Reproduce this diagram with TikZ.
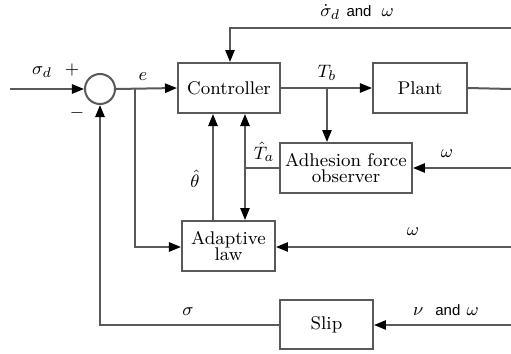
\documentclass[tikz,border=0pt]{standalone}
\usepackage{fontspec}
\newfontfamily\andfont{Liberation Sans}
\usetikzlibrary{arrows.meta,calc}
\begin{document}
\begin{tikzpicture}[x=0.5pt,y=-0.5pt,
  wire/.style={draw=black!65,line width=1pt},
  arr/.style={wire,-{Triangle[length=6pt,width=4.6pt,fill=black,color=black]}},
  block/.style={draw=black!65,line width=1pt,minimum width=#1,inner sep=0pt,align=center,font=\fontsize{9.2}{10.2}\selectfont},
  lbl/.style={font=\fontsize{9.5}{10}\selectfont,inner sep=0pt}]
\useasboundingbox (0,0) rectangle (511,354);

% blocks
\node[block=51pt,minimum height=25pt] (ctrl) at (229,88) {Controller};
\node[block=47pt,minimum height=25pt] (plant) at (420,88) {Plant};
\node[block=66pt,minimum height=25pt] (obs) at (346,168) {Adhesion force\\[-2pt]observer};
\node[block=46.5pt,minimum height=25pt] (adapt) at (228.5,246) {Adaptive\\[-2pt]law};
\node[block=46.5pt,minimum height=24.5pt] (slip) at (326.5,324.5) {Slip};
\node[draw=black!65,line width=1pt,circle,minimum size=15pt,inner sep=0pt] (sum) at (100,89) {};

% free ends at the right edge and on the left
\coordinate (in) at (10,89);
\coordinate (outP) at (511,89);
\coordinate (topR) at (511,28);
\coordinate (topL) at (230,28);
\coordinate (wObs) at (511,168);
\coordinate (wAd) at (511,247);
\coordinate (vw) at (511,325);
\coordinate (eb) at (135,89);
\coordinate (tb) at (327,89);
\coordinate (ta) at (245,168);
\coordinate (sl) at (100,325);

% signal paths
\draw[arr] (in) -- (sum.west);
\draw[arr] (sum.east) -- (ctrl.west);
\draw[arr] (eb) |- (adapt.west |- 0,247);
\draw[arr] (ctrl.east) -- (plant.west);
\draw[arr] (tb) -- (tb |- obs.north);
\draw[wire] (plant.east) -- (outP);
\draw[arr] (topR) -- (topL) -- (topL |- ctrl.north);
\draw[arr] (wObs) -- (obs.east |- wObs);
\draw[arr] (wAd) -- (adapt.east |- wAd);
\draw[arr] (vw) -- (slip.east |- vw);
\draw[arr] (slip.west |- sl) -- (sl) -- (sum.south);
\draw[wire] (obs.west |- ta) -- (ta);
\draw[arr] (ta) -- (ta |- ctrl.south);
\draw[arr] (ta) -- (ta |- adapt.north);
\draw[arr] (213,0 |- adapt.north) -- (213,0 |- ctrl.south);

% labels
\node[lbl] at (42,72) {$\sigma_d$};
\node[lbl] at (72,70) {$+$};
\node[lbl] at (77,113) {$-$};
\node[lbl] at (143,77) {$e$};
\node[lbl] at (327,73) {$T_b$};
\node[lbl] at (264,152) {$\hat{T}_a$};
\node[lbl] at (195,179) {$\hat{\theta}$};
\node[lbl] at (447,154) {$\omega$};
\node[lbl] at (413,232) {$\omega$};
\node[lbl] at (188,312) {$\sigma$};
\node[lbl] at (446,310) {$\nu$\hspace{6pt}{\andfont\fontsize{7.5}{9}\selectfont and} $\omega$};
\node[lbl] at (357,12) {$\dot{\sigma}_d$ {\andfont\fontsize{7.5}{9}\selectfont and}\hspace{5pt}$\omega$};
\end{tikzpicture}
\end{document}
